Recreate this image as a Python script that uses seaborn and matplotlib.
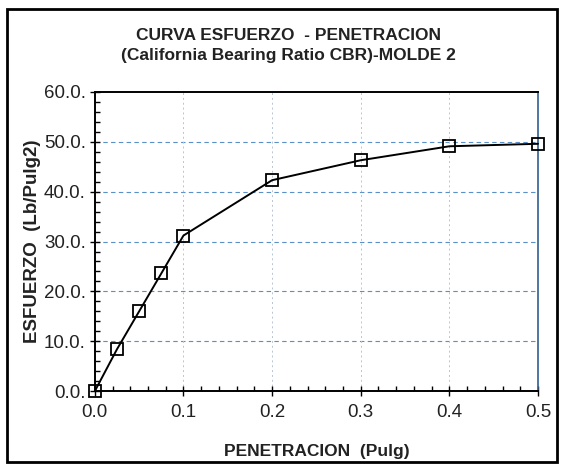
import numpy as np
import pandas as pd
import matplotlib
matplotlib.use("Agg")
import matplotlib.pyplot as plt
import seaborn as sns
from matplotlib.ticker import MultipleLocator, FuncFormatter
from matplotlib.patches import Rectangle

# datos
penetracion = [0.0, 0.025, 0.05, 0.075, 0.1, 0.2, 0.3, 0.4, 0.5]
esfuerzo = [0.0, 8.4, 16.0, 23.6, 31.2, 42.3, 46.3, 49.1, 49.6]

titulo = "CURVA ESFUERZO  - PENETRACION\n(California Bearing Ratio CBR)-MOLDE 2"
xlabel = "PENETRACION  (Pulg)"
ylabel = "ESFUERZO  (Lb/Pulg2)"

df = pd.DataFrame({"x": penetracion, "y": esfuerzo})

sns.set_theme(style="ticks")
plt.rcParams["font.family"] = ["Liberation Sans", "DejaVu Sans"]

fig = plt.figure(figsize=(5.61, 4.69), dpi=100)
ax = fig.add_axes([0.169, 0.166, 0.790, 0.638])

sns.lineplot(data=df, x="x", y="y", ax=ax, color="black", linewidth=1.4,
             marker="s", markersize=8, markerfacecolor="none",
             markeredgecolor="black", markeredgewidth=1.3, clip_on=False,
             zorder=5)

ax.set_xlim(0, 0.5)
ax.set_ylim(0, 60)
ax.xaxis.set_major_locator(MultipleLocator(0.1))
ax.xaxis.set_minor_locator(MultipleLocator(0.02))
ax.yaxis.set_major_locator(MultipleLocator(10))
ax.yaxis.set_minor_locator(MultipleLocator(2))
ax.xaxis.set_major_formatter(FuncFormatter(lambda v, p: f"{v:.1f}"))
ax.yaxis.set_major_formatter(FuncFormatter(lambda v, p: f"{v:.1f}."))

ax.tick_params(axis="both", which="both", bottom=True, left=True,
               top=False, right=False)
ax.tick_params(axis="both", which="major", direction="inout", length=7,
               width=1, color="black", labelsize=13.5, pad=3,
               labelcolor="#222222")
ax.tick_params(axis="both", which="minor", direction="in", length=3.5,
               width=1, color="black")
ax.tick_params(axis="x", which="major", pad=6)

# rejilla
for v in [10, 20, 30, 40, 50]:
    ax.axhline(v, color="#5b8fc8", linestyle=(0, (4, 3)), linewidth=0.8, zorder=0)
for v in [0.1, 0.2, 0.3, 0.4]:
    ax.axvline(v, color="#b8c4d4", linestyle=(0, (2, 3)), linewidth=0.7, zorder=0)

for s in ["left", "bottom", "top"]:
    ax.spines[s].set_visible(True)
    ax.spines[s].set_color("black")
    ax.spines[s].set_linewidth(1.4)
ax.spines["right"].set_visible(True)
ax.spines["right"].set_color("#2f5f8f")
ax.spines["right"].set_linewidth(1.2)

ax.set_xlabel(xlabel, fontsize=12.5, fontweight="bold", labelpad=16,
              color="#222222")
ax.set_ylabel(ylabel, fontsize=13.5, fontweight="bold", labelpad=2,
              color="#222222")

fig.text(0.515, 0.903, titulo, ha="center", va="center", fontsize=12.5,
         fontweight="bold", linespacing=1.4, color="#222222")

# marco exterior
fig.patches.append(Rectangle((0.013, 0.015), 0.98, 0.965, transform=fig.transFigure,
                             fill=False, edgecolor="black", linewidth=2))

fig.savefig("out.png", dpi=100)
